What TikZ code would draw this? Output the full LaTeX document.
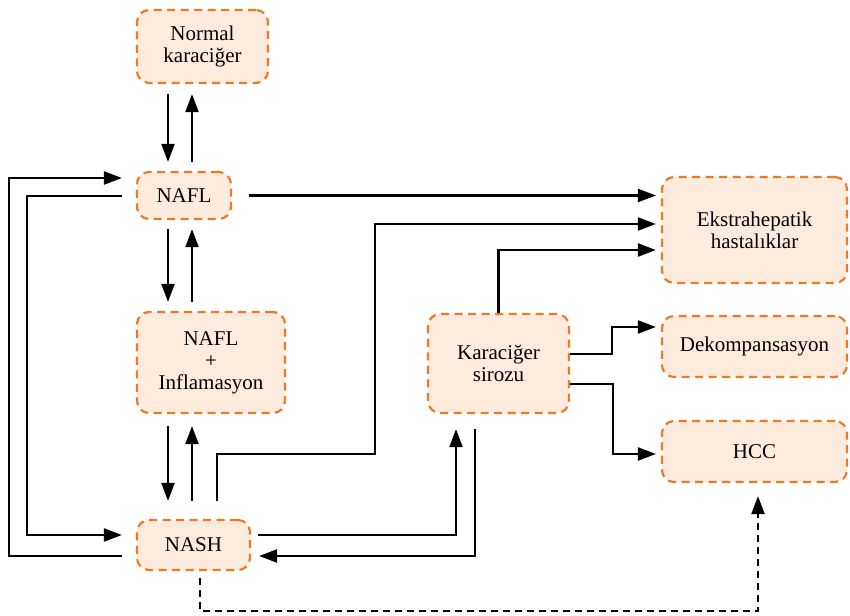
\documentclass[tikz,border=0pt]{standalone}
\usepackage{fontspec}
\setmainfont{Liberation Serif}
\usepackage{tikz}
\usetikzlibrary{arrows.meta,calc}
\definecolor{boxline}{RGB}{238,122,40}
\definecolor{boxfill}{RGB}{253,235,222}
\tikzset{
  box/.style={draw=boxline, fill=boxfill, line width=2.2pt, dash pattern=on 8pt off 5.5pt,
    rounded corners=12pt, inner sep=0pt, align=center, font=\fontsize{21}{22}\selectfont},
  arr/.style={-{Triangle[length=18pt,width=13pt]}, line width=2.2pt},
  dasharr/.style={arr, dash pattern=on 7pt off 5pt}
}

\begin{document}
\begin{tikzpicture}[x=1pt,y=-1pt]
        \useasboundingbox (0,0) rectangle (850,615);
        \node[box, minimum width=131pt, minimum height=73pt] (norm) at (202.5,46.5) {Normal\\karaciğer};
        \node[box, minimum width=94pt, minimum height=47pt] (nafl) at (184,195.5) {NAFL};
        \node[box, minimum width=148pt, minimum height=101pt] (infl) at (211,362.5) {NAFL\\+\\Inflamasyon};
        \node[box, minimum width=113pt, minimum height=50pt] (nash) at (193.5,545) {NASH};
        \node[box, minimum width=141pt, minimum height=99pt] (kara) at (498.5,363.5) {Karaciğer\\sirozu};
        \node[box, minimum width=185pt, minimum height=106pt] (ekstra) at (754.5,230) {Ekstrahepatik\\hastalıklar};
        \node[box, minimum width=185pt, minimum height=61pt] (dekomp) at (754.5,346.5) {Dekompansasyon};
        \node[box, minimum width=185pt, minimum height=61pt] (hcc) at (754.5,451.5) {HCC};
        \draw[arr] ($(norm.south)+(-34.5,10)$) -- ($(nafl.north)+(-16,-9)$);
        \draw[arr] ($(nafl.north)+(8,-9)$) -- ($(norm.south)+(-10.5,10)$);
        \draw[arr] ($(nafl.south)+(-16,9)$) -- ($(infl.north)+(-43,-9)$);
        \draw[arr] ($(infl.north)+(-19,-9)$) -- ($(nafl.south)+(8,9)$);
        \draw[arr] ($(infl.south)+(-43,12)$) -- ($(nash.north)+(-25.5,-18)$);
        \draw[arr] ($(nash.north)+(-1.5,-18)$) -- ($(infl.south)+(-19,12)$);
        \draw[arr] ($(nash.north)+(23.5,-18)$) -- ++(0,-47) -- ++(158,0) |- ($(ekstra.west)+(-5,-6)$);
        \draw[arr] ($(nafl.east)+(17,0)$) -- ($(ekstra.west)+(-5,-34.5)$);
        \draw[arr] (kara.north) |- ($(ekstra.west)+(-5,20)$);
        \draw[arr] ($(kara.east)+(0,-9.5)$) -- ++(42,0) |- ($(dekomp.west)+(-5,-19.5)$);
        \draw[arr] ($(kara.east)+(0,20.5)$) -- ++(43,0) |- ($(hcc.west)+(-5,2.5)$);
        \draw[arr] ($(nash.east)+(7,-10)$) -| ($(kara.south)+(-42.5,15)$);
        \draw[arr] ($(kara.south)+(-23.5,15)$) |- ($(nash.east)+(8,11)$);
        \draw[dasharr] ($(nash.south)+(6.5,7)$) -- ++(0,33) -| ($(hcc.south)+(3.5,13)$);
        \draw[arr] ($(nafl.west)+(-14,0.5)$) -- ++(-95,0) |- ($(nash.west)+(-14,-10)$);
        \draw[arr] ($(nash.west)+(-14,11)$) -- ++(-113,0) |- ($(nafl.west)+(-14,-17.5)$);
    \end{tikzpicture}
\end{document}
